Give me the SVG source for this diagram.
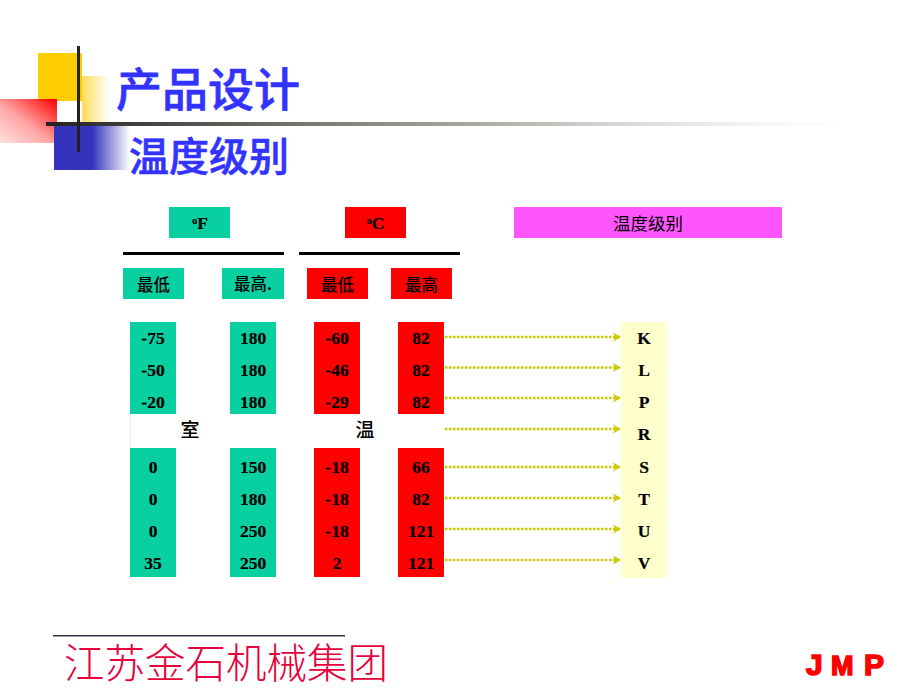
<svg xmlns="http://www.w3.org/2000/svg" width="920" height="690" viewBox="0 0 920 690">
<style>
.t{fill:#08d0a0}.r{fill:#ff0000}
.n{font:bold 17.5px "Liberation Serif","Noto Sans CJK SC",serif;fill:#000;text-anchor:middle;stroke:#000;stroke-width:.2}
.c{font:500 16.5px "Noto Sans CJK SC",sans-serif;fill:#000;text-anchor:middle}
.a{fill:none;stroke:#cccc00;stroke-width:2.500;stroke-dasharray:2.500 1.500;marker-end:url(#h)}
.title{font-family:"Noto Sans CJK SC",sans-serif;font-weight:500;fill:#3333ff;stroke:#3333ff;stroke-width:.6}
.l{stroke:#ff0000;stroke-width:1.600}
</style>
<defs>
<marker id="h" markerUnits="userSpaceOnUse" markerWidth="9" markerHeight="10" refX="8" refY="5" orient="auto"><path d="M0 0.5L8 5L0 9.500L2 5z" fill="#cccc00"/></marker>
<linearGradient id="gy" x1="0" x2="1" y1="0" y2="0"><stop offset="0" stop-color="#ffcc00" stop-opacity=".65"/><stop offset="1" stop-color="#ffcc00" stop-opacity="0"/></linearGradient>
<linearGradient id="gr" x1="1" x2="0" y1="0" y2="1"><stop offset="0" stop-color="#ff0000"/><stop offset=".55" stop-color="#ff0000" stop-opacity=".35"/><stop offset="1" stop-color="#ff0000" stop-opacity=".12"/></linearGradient>
<linearGradient id="gb" x1="0" x2="1" y1="0" y2="0"><stop offset="0" stop-color="#3333bb"/><stop offset="1" stop-color="#3333bb" stop-opacity="0"/></linearGradient>
<linearGradient id="gl" x1="46" x2="850" y1="0" y2="0" gradientUnits="userSpaceOnUse"><stop offset="0" stop-color="#222222"/><stop offset=".32" stop-color="#777770"/><stop offset=".56" stop-color="#b0b0a8"/><stop offset=".8" stop-color="#dddddd" stop-opacity=".7"/><stop offset="1" stop-color="#eeeeee" stop-opacity="0"/></linearGradient>
</defs>
<g id="decor">
<rect x="38" y="53" width="44" height="48" fill="#ffcc00"/>
<rect x="82" y="76" width="28" height="46" fill="url(#gy)"/>
<rect x="0" y="99" width="57" height="44" fill="url(#gr)"/>
<rect x="54" y="126" width="38" height="44" fill="#3333bb"/>
<rect x="92" y="126" width="38" height="44" fill="url(#gb)"/>
<rect x="46" y="122" width="804" height="4" fill="url(#gl)"/>
<rect x="77" y="46" width="3" height="106" fill="#222222"/>
</g>
<g id="titles">
<text class="title" x="116" y="106" font-size="46">产品设计</text>
<text class="title" x="129" y="171" font-size="40">温度级别</text>
</g>
<g id="head-f"><rect class="t" x="169" y="207" width="61" height="31"/><text class="n" x="200" y="229"><tspan font-size="10" dy="-5">o</tspan><tspan dy="5">F</tspan></text></g>
<g id="head-c"><rect class="r" x="345" y="207" width="61" height="31"/><text class="n" x="375.500" y="229"><tspan font-size="10" dy="-5">o</tspan><tspan dy="5">C</tspan></text></g>
<g id="head-grade"><rect x="514" y="207" width="268" height="31" fill="#ff55ff"/><text x="648" y="230" text-anchor="middle" font-family="Noto Sans CJK SC,sans-serif" font-size="17.500">温度级别</text></g>
<g id="rules"><rect x="123" y="252" width="161" height="3"/><rect x="299" y="252" width="161" height="3"/></g>
<g id="f-min"><rect class="t" x="123" y="268" width="61" height="31"/><text class="c" x="153.500" y="291">最低</text></g>
<g id="f-max"><rect class="t" x="222" y="268" width="62" height="31"/><text class="c" x="253" y="290">最高.</text></g>
<g id="c-min"><rect class="r" x="307" y="268" width="61" height="31"/><text class="c" x="337.500" y="291">最低</text></g>
<g id="c-max"><rect class="r" x="391" y="268" width="61" height="31"/><text class="c" x="421.500" y="291">最高</text></g>
<g id="col-f-min"><rect class="t" x="130" y="322" width="46" height="92"/><rect class="t" x="130" y="448" width="46" height="129"/>
<rect x="130" y="414" width="1" height="34" fill="#d4f4ec"/>
<text class="n" x="153" y="344">-75</text><text class="n" x="153" y="376">-50</text><text class="n" x="153" y="408">-20</text>
<text class="n" x="153" y="473">0</text><text class="n" x="153" y="505">0</text><text class="n" x="153" y="537">0</text><text class="n" x="153" y="569">35</text></g>
<g id="col-f-max"><rect class="t" x="230" y="322" width="46" height="92"/><rect class="t" x="230" y="448" width="46" height="129"/>
<text class="n" x="253" y="344">180</text><text class="n" x="253" y="376">180</text><text class="n" x="253" y="408">180</text>
<text class="n" x="253" y="473">150</text><text class="n" x="253" y="505">180</text><text class="n" x="253" y="537">250</text><text class="n" x="253" y="569">250</text></g>
<g id="col-c-min"><rect class="r" x="314" y="322" width="46" height="92"/><rect class="r" x="314" y="448" width="46" height="129"/>
<text class="n" x="337" y="344">-60</text><text class="n" x="337" y="376">-46</text><text class="n" x="337" y="408">-29</text>
<text class="n" x="337" y="473">-18</text><text class="n" x="337" y="505">-18</text><text class="n" x="337" y="537">-18</text><text class="n" x="337" y="569">2</text></g>
<g id="col-c-max"><rect class="r" x="398" y="322" width="46" height="92"/><rect class="r" x="398" y="448" width="46" height="129"/>
<text class="n" x="421" y="344">82</text><text class="n" x="421" y="376">82</text><text class="n" x="421" y="408">82</text>
<text class="n" x="421" y="473">66</text><text class="n" x="421" y="505">82</text><text class="n" x="421" y="537">121</text><text class="n" x="421" y="569">121</text></g>
<g id="room"><text class="c" x="190" y="437" style="font-size:19px">室</text><text class="c" x="365" y="437" style="font-size:19px">温</text></g>
<g id="col-grade"><rect x="621" y="322" width="46" height="256" fill="#ffffcc"/>
<text class="n" x="644" y="344">K</text><text class="n" x="644" y="376">L</text><text class="n" x="644" y="408">P</text><text class="n" x="644" y="440">R</text>
<text class="n" x="644" y="473">S</text><text class="n" x="644" y="505">T</text><text class="n" x="644" y="537">U</text><text class="n" x="644" y="569">V</text></g>
<g id="connectors">
<path class="a" d="M445 337H621"/><path class="a" d="M445 367.500H621"/><path class="a" d="M445 398H621"/><path class="a" d="M445 429H621"/>
<path class="a" d="M445 467H621"/><path class="a" d="M445 498H621"/><path class="a" d="M445 529H621"/><path class="a" d="M445 560H621"/>
</g>
<g id="footer"><rect x="53" y="635" width="292" height="1.500" fill="#333344"/>
<text x="64" y="678" font-family="Noto Sans CJK SC,sans-serif" font-weight="300" font-size="40.500" fill="#e6003c">江苏金石机械集团</text></g>
<g id="logo" font-family="Liberation Sans,sans-serif" font-weight="bold" font-size="30" fill="#ff0000">
<text class="l" x="806" y="674.500">J</text><text class="l" x="831" y="674.500" font-size="27">M</text><text class="l" x="864" y="674.500">P</text></g>
</svg>
